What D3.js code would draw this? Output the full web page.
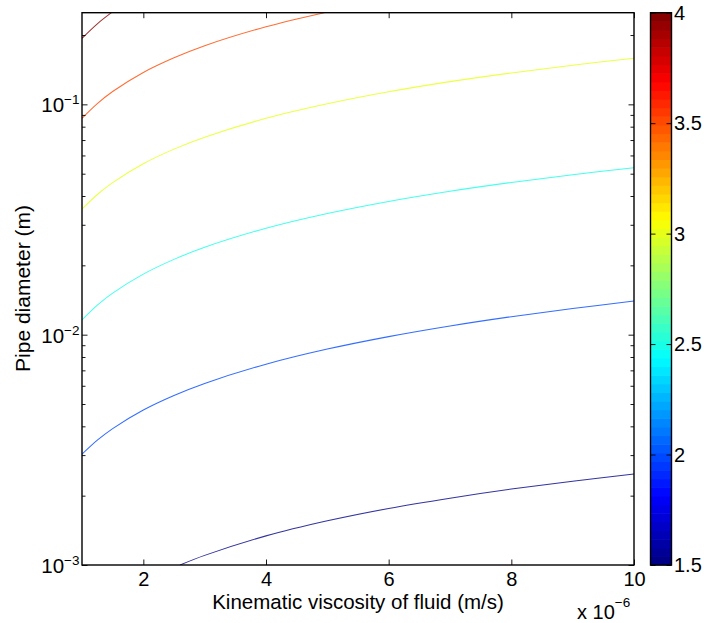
<!DOCTYPE html>
<html>
<head>
<meta charset="utf-8">
<script src="https://cdn.jsdelivr.net/npm/d3@7"></script>
<style>
  html, body { margin: 0; padding: 0; background: #fff; }
  svg { display: block; font-family: "Liberation Sans", Arial, Helvetica, sans-serif; }
</style>
</head>
<body>
<svg id="chart" width="706" height="623"></svg>
<script>
// ---- data ----
// viscosity in units of 1e-6 m^2/s, diameter in m
const levels = [1.5, 2, 2.5, 3, 3.5, 4];
const contour15 = [[2.598,0.00100],[3,0.001101],[4,0.001338],[5,0.001555],[6,0.001760],[7,0.001951],[8,0.002136],[9,0.002312],[10,0.002483]];
const contour20 = [[1,0.003027],[1.25,0.003483],[1.5,0.003911],[2,0.004708],[2.5,0.005445],[3,0.006141],[4,0.007443],[5,0.008658],[6,0.009808],[7,0.01091],[8,0.01197],[9,0.01299],[10,0.01400]];
const contour25 = [[1,0.01159],[1.25,0.01343],[1.5,0.01515],[2,0.01832],[2.5,0.02123],[3,0.02396],[4,0.02897],[5,0.03357],[6,0.03788],[7,0.04195],[8,0.04580],[9,0.04952],[10,0.05309]];
const contour30 = [[1,0.03508],[1.25,0.04060],[1.5,0.04574],[2,0.05525],[2.5,0.06392],[3,0.07203],[4,0.08698],[5,0.1006],[6,0.1134],[7,0.1255],[8,0.1369],[9,0.1479],[10,0.1585]];
const contour35 = [[1,0.0870],[1.25,0.1008],[1.5,0.1137],[2,0.1375],[2.5,0.1592],[3,0.1797],[4,0.2172],[4.95,0.25]];
const contour40 = [[1,0.1935],[1.25,0.2237],[1.48,0.25]];
const contours = [contour15, contour20, contour25, contour30, contour35, contour40];

const xTicks = [2, 4, 6, 8, 10];
const yMajorTicks = [1e-3, 1e-2, 1e-1];
const yMajorExp = ["\u22123", "\u22122", "\u22121"];
const yMinorTicks = [2e-3,3e-3,4e-3,5e-3,6e-3,7e-3,8e-3,9e-3,2e-2,3e-2,4e-2,5e-2,6e-2,7e-2,8e-2,9e-2,2e-1];
const cbTicks = [1.5, 2, 2.5, 3, 3.5, 4];
const xDomain = [1, 10];
const yDomain = [1e-3, 0.25];
const cDomain = [1.5, 4];
const xLabel = "Kinematic viscosity of fluid (m/s)";
const yLabel = "Pipe diameter (m)";

// ---- layout ----
const L = 82, R = 634, T = 12.7, B = 565;
const cbL = 650.5, cbR = 671.5;

const svg = d3.select("#chart");
const x = d3.scaleLinear().domain(xDomain).range([L, R]);
const y = d3.scaleLog().domain(yDomain).range([B, T]);
const cy = d3.scaleLinear().domain(cDomain).range([B, T]);

// MATLAB jet colormap with 64 entries
function jetRGB(t) {
  const r = Math.max(0, Math.min(1, Math.min(4*t - 1.5, -4*t + 4.5)));
  const g = Math.max(0, Math.min(1, Math.min(4*t - 0.5, -4*t + 3.5)));
  const b = Math.max(0, Math.min(1, Math.min(4*t + 0.5, -4*t + 2.5)));
  return d3.rgb(r*255, g*255, b*255).formatHex();
}
const N = 64;
function jetIndexColor(i) { return jetRGB((i + 0.5) / N); }
function levelColor(v) {
  const t = (v - cDomain[0]) / (cDomain[1] - cDomain[0]);
  const i = Math.min(N - 1, Math.max(0, Math.floor(t * N)));
  return jetIndexColor(i);
}

// clip
svg.append("defs").append("clipPath").attr("id", "clip")
  .append("rect").attr("x", L).attr("y", T).attr("width", R - L).attr("height", B - T);

// contours
const line = d3.line().x(d => x(d[0])).y(d => y(d[1])).curve(d3.curveCatmullRom.alpha(0.5));
const cg = svg.append("g").attr("clip-path", "url(#clip)");
contours.forEach((c, k) => {
  cg.append("path").attr("d", line(c)).attr("fill", "none")
    .attr("stroke", levelColor(levels[k])).attr("stroke-width", 1.05)
    .attr("stroke-opacity", 0.8);
});

// axes ticks
const tickLen = 5.5, minorLen = 3.5;
const axG = svg.append("g");
axG.append("g").attr("transform", `translate(0,${B})`)
  .call(d3.axisBottom(x).tickValues(xTicks).tickSize(-tickLen).tickFormat(d3.format("d")).tickPadding(7))
  .call(g => { g.select(".domain").remove(); g.selectAll("text").attr("font-size", 20).attr("fill", "#000").attr("font-family", "Liberation Sans, Arial, sans-serif"); });
axG.append("g").attr("transform", `translate(0,${T})`)
  .call(d3.axisTop(x).tickValues(xTicks).tickSize(-tickLen).tickFormat(""))
  .call(g => g.select(".domain").remove());
axG.append("g").attr("transform", `translate(${L},0)`)
  .call(d3.axisLeft(y).tickValues(yMajorTicks).tickSize(-tickLen).tickFormat(""))
  .call(g => g.select(".domain").remove());
axG.append("g").attr("transform", `translate(${L},0)`)
  .call(d3.axisLeft(y).tickValues(yMinorTicks).tickSize(-minorLen).tickFormat(""))
  .call(g => g.select(".domain").remove());
axG.append("g").attr("transform", `translate(${R},0)`)
  .call(d3.axisRight(y).tickValues(yMajorTicks).tickSize(-tickLen).tickFormat(""))
  .call(g => g.select(".domain").remove());
axG.append("g").attr("transform", `translate(${R},0)`)
  .call(d3.axisRight(y).tickValues(yMinorTicks).tickSize(-minorLen).tickFormat(""))
  .call(g => g.select(".domain").remove());
axG.selectAll(".tick line").attr("stroke", "#000").attr("stroke-width", 0.9);

// y labels with superscript
const yl = svg.append("g");
yMajorTicks.forEach((v, i) => {
  const t = yl.append("text").attr("x", 79.5).attr("y", y(v) + 8).attr("text-anchor", "end").attr("fill", "#000");
  t.append("tspan").attr("font-size", 20.5).text("10");
  t.append("tspan").attr("font-size", 13.5).attr("dy", -8).text(yMajorExp[i]);
});

// box
svg.append("rect").attr("x", L).attr("y", T).attr("width", R - L).attr("height", B - T)
  .attr("fill", "none").attr("stroke", "#000").attr("stroke-width", 1.4);

// axis labels
svg.append("text").attr("x", (L + R) / 2).attr("y", 608.5).attr("text-anchor", "middle")
  .attr("font-size", 20.5).attr("fill", "#000").text(xLabel);
svg.append("text").attr("transform", "translate(29.5,288.5) rotate(-90)").attr("text-anchor", "middle")
  .attr("font-size", 21).attr("fill", "#000").text(yLabel);

// x 10^-6 multiplier
const mult = svg.append("text").attr("x", 577).attr("y", 619).attr("fill", "#000");
mult.append("tspan").attr("font-size", 20).text("x 10");
mult.append("tspan").attr("font-size", 13.5).attr("dy", -12).text("\u22126");

// colorbar
const cb = svg.append("g");
const step = (cDomain[1] - cDomain[0]) / N;
d3.range(N).forEach(i => {
  const v0 = cDomain[0] + i * step, v1 = v0 + step;
  cb.append("rect").attr("x", cbL).attr("width", cbR - cbL)
    .attr("y", cy(v1)).attr("height", cy(v0) - cy(v1) + 0.6)
    .attr("fill", jetIndexColor(i));
});
cb.append("g").attr("transform", `translate(${cbL},0)`)
  .call(d3.axisLeft(cy).tickValues(cbTicks).tickSize(-5).tickFormat(""))
  .call(g => g.select(".domain").remove());
cb.append("g").attr("transform", `translate(${cbR},0)`)
  .call(d3.axisRight(cy).tickValues(cbTicks).tickSize(-5).tickFormat(""))
  .call(g => g.select(".domain").remove());
cb.selectAll(".tick line").attr("stroke", "#000").attr("stroke-width", 0.9);
cb.append("rect").attr("x", cbL).attr("y", T).attr("width", cbR - cbL).attr("height", B - T)
  .attr("fill", "none").attr("stroke", "#000").attr("stroke-width", 1.4);
cbTicks.forEach(v => {
  cb.append("text").attr("x", 674).attr("y", cy(v)).attr("dy", "0.36em")
    .attr("font-size", 20).attr("fill", "#000").text(d3.format("")(v));
});
</script>
</body>
</html>
